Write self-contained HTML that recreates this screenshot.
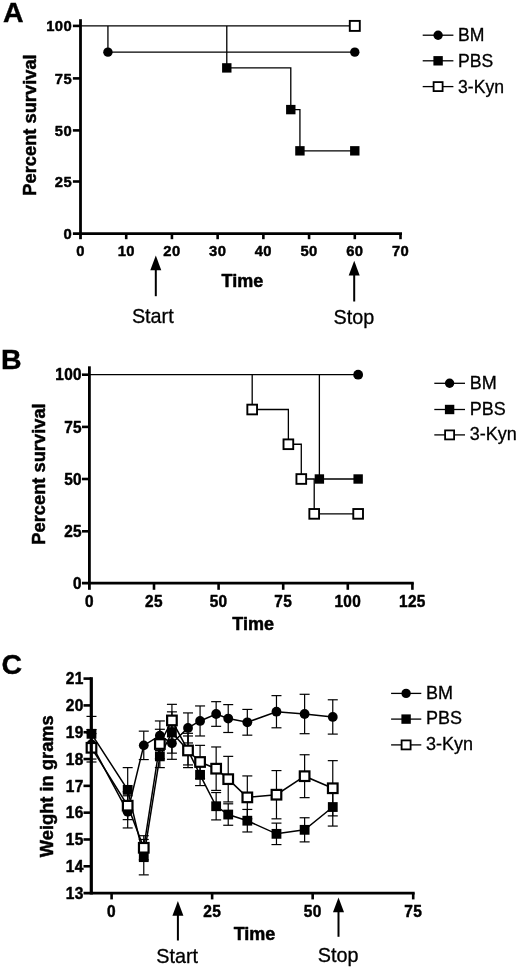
<!DOCTYPE html>
<html><head><meta charset="utf-8"><title>Figure</title>
<style>
html,body{margin:0;padding:0;background:#fff;}
body{width:520px;height:968px;overflow:hidden;}
svg{display:block;filter:grayscale(1);font-family:"Liberation Sans", sans-serif;fill:#000;}
</style></head><body>
<svg width="520" height="968" viewBox="0 0 520 968">
<rect x="0" y="0" width="520" height="968" fill="#fff"/>
<text x="3.00" y="22.00" font-size="28.5" font-weight="bold" text-anchor="start" stroke="#000" stroke-width="0.4">A</text>
<line x1="80.50" y1="19.20" x2="80.50" y2="239.20" stroke="#000" stroke-width="2.8" />
<line x1="72.90" y1="233.60" x2="402.00" y2="233.60" stroke="#000" stroke-width="2.8" />
<line x1="72.90" y1="181.50" x2="80.50" y2="181.50" stroke="#000" stroke-width="2.6" />
<line x1="72.90" y1="130.40" x2="80.50" y2="130.40" stroke="#000" stroke-width="2.6" />
<line x1="72.90" y1="78.40" x2="80.50" y2="78.40" stroke="#000" stroke-width="2.6" />
<line x1="72.90" y1="25.90" x2="80.50" y2="25.90" stroke="#000" stroke-width="2.6" />
<text transform="translate(72.00,239.00) scale(1.0,1.01)" font-size="14.8" font-weight="bold" text-anchor="end" stroke="#000" stroke-width="0.45" stroke-linejoin="round" letter-spacing="0.35">0</text>
<text transform="translate(72.00,186.90) scale(1.0,1.01)" font-size="14.8" font-weight="bold" text-anchor="end" stroke="#000" stroke-width="0.45" stroke-linejoin="round" letter-spacing="0.35">25</text>
<text transform="translate(72.00,135.80) scale(1.0,1.01)" font-size="14.8" font-weight="bold" text-anchor="end" stroke="#000" stroke-width="0.45" stroke-linejoin="round" letter-spacing="0.35">50</text>
<text transform="translate(72.00,83.80) scale(1.0,1.01)" font-size="14.8" font-weight="bold" text-anchor="end" stroke="#000" stroke-width="0.45" stroke-linejoin="round" letter-spacing="0.35">75</text>
<text transform="translate(72.00,31.30) scale(1.0,1.01)" font-size="14.8" font-weight="bold" text-anchor="end" stroke="#000" stroke-width="0.45" stroke-linejoin="round" letter-spacing="0.35">100</text>
<line x1="126.21" y1="233.60" x2="126.21" y2="239.20" stroke="#000" stroke-width="2.6" />
<line x1="171.93" y1="233.60" x2="171.93" y2="239.20" stroke="#000" stroke-width="2.6" />
<line x1="217.64" y1="233.60" x2="217.64" y2="239.20" stroke="#000" stroke-width="2.6" />
<line x1="263.36" y1="233.60" x2="263.36" y2="239.20" stroke="#000" stroke-width="2.6" />
<line x1="309.07" y1="233.60" x2="309.07" y2="239.20" stroke="#000" stroke-width="2.6" />
<line x1="354.79" y1="233.60" x2="354.79" y2="239.20" stroke="#000" stroke-width="2.6" />
<line x1="400.50" y1="233.60" x2="400.50" y2="239.20" stroke="#000" stroke-width="2.6" />
<text transform="translate(80.50,256.00) scale(1.0,1.01)" font-size="14.8" font-weight="bold" text-anchor="middle" stroke="#000" stroke-width="0.45" stroke-linejoin="round" letter-spacing="0.35">0</text>
<text transform="translate(126.21,256.00) scale(1.0,1.01)" font-size="14.8" font-weight="bold" text-anchor="middle" stroke="#000" stroke-width="0.45" stroke-linejoin="round" letter-spacing="0.35">10</text>
<text transform="translate(171.93,256.00) scale(1.0,1.01)" font-size="14.8" font-weight="bold" text-anchor="middle" stroke="#000" stroke-width="0.45" stroke-linejoin="round" letter-spacing="0.35">20</text>
<text transform="translate(217.64,256.00) scale(1.0,1.01)" font-size="14.8" font-weight="bold" text-anchor="middle" stroke="#000" stroke-width="0.45" stroke-linejoin="round" letter-spacing="0.35">30</text>
<text transform="translate(263.36,256.00) scale(1.0,1.01)" font-size="14.8" font-weight="bold" text-anchor="middle" stroke="#000" stroke-width="0.45" stroke-linejoin="round" letter-spacing="0.35">40</text>
<text transform="translate(309.07,256.00) scale(1.0,1.01)" font-size="14.8" font-weight="bold" text-anchor="middle" stroke="#000" stroke-width="0.45" stroke-linejoin="round" letter-spacing="0.35">50</text>
<text transform="translate(354.79,256.00) scale(1.0,1.01)" font-size="14.8" font-weight="bold" text-anchor="middle" stroke="#000" stroke-width="0.45" stroke-linejoin="round" letter-spacing="0.35">60</text>
<text transform="translate(400.50,256.00) scale(1.0,1.01)" font-size="14.8" font-weight="bold" text-anchor="middle" stroke="#000" stroke-width="0.45" stroke-linejoin="round" letter-spacing="0.35">70</text>
<text x="242.40" y="286.90" font-size="18.0" font-weight="bold" text-anchor="middle" stroke="#000" stroke-width="0.5" stroke-linejoin="round">Time</text>
<text transform="translate(36.2,125) rotate(-90)" font-size="18.3" font-weight="bold" text-anchor="middle" stroke="#000" stroke-width="0.5" stroke-linejoin="round">Percent survival</text>
<line x1="80.50" y1="25.90" x2="354.79" y2="25.90" stroke="#000" stroke-width="1.3" />
<line x1="107.93" y1="25.90" x2="107.93" y2="52.15" stroke="#000" stroke-width="1.3" />
<line x1="107.93" y1="52.15" x2="354.79" y2="52.15" stroke="#000" stroke-width="1.3" />
<polyline fill="none" stroke="#000" stroke-width="1.3" points="226.79,25.90 226.79,67.90 290.79,67.90 290.79,109.60 299.93,109.60 299.93,150.84 354.79,150.84"/>
<circle cx="107.93" cy="52.15" r="4.7" fill="#000"/>
<circle cx="354.79" cy="52.15" r="4.7" fill="#000"/>
<rect x="222.09" y="63.20" width="9.4" height="9.4" fill="#000"/>
<rect x="286.09" y="104.90" width="9.4" height="9.4" fill="#000"/>
<rect x="295.23" y="146.14" width="9.4" height="9.4" fill="#000"/>
<rect x="350.09" y="146.14" width="9.4" height="9.4" fill="#000"/>
<rect x="349.79" y="20.90" width="10.0" height="10.0" fill="#fff" stroke="#000" stroke-width="1.9"/>
<polygon points="155.80,255.50 150.30,270.30 161.30,270.30" fill="#000"/>
<line x1="155.80" y1="269.30" x2="155.80" y2="296.20" stroke="#000" stroke-width="2.0" />
<polygon points="354.20,260.70 348.70,275.50 359.70,275.50" fill="#000"/>
<line x1="354.20" y1="274.50" x2="354.20" y2="301.50" stroke="#000" stroke-width="2.0" />
<text x="152.80" y="322.70" font-size="19.8" text-anchor="middle" stroke="#000" stroke-width="0.3">Start</text>
<text x="353.80" y="324.00" font-size="19.8" text-anchor="middle" stroke="#000" stroke-width="0.3">Stop</text>
<line x1="422.70" y1="35.20" x2="453.40" y2="35.20" stroke="#000" stroke-width="1.3" />
<circle cx="438.10" cy="35.20" r="4.7" fill="#000"/>
<text x="458.00" y="41.30" font-size="17.6" text-anchor="start" stroke="#000" stroke-width="0.3">BM</text>
<line x1="422.70" y1="60.80" x2="453.40" y2="60.80" stroke="#000" stroke-width="1.3" />
<rect x="433.40" y="56.10" width="9.4" height="9.4" fill="#000"/>
<text x="458.00" y="66.90" font-size="17.6" text-anchor="start" stroke="#000" stroke-width="0.3">PBS</text>
<line x1="422.70" y1="86.60" x2="453.40" y2="86.60" stroke="#000" stroke-width="1.3" />
<rect x="433.60" y="82.10" width="9.0" height="9.0" fill="#fff" stroke="#000" stroke-width="1.8"/>
<text x="458.00" y="92.70" font-size="17.6" text-anchor="start" stroke="#000" stroke-width="0.3">3-Kyn</text>
<text x="1.00" y="368.80" font-size="28.5" font-weight="bold" text-anchor="start" stroke="#000" stroke-width="0.4">B</text>
<line x1="89.40" y1="366.30" x2="89.40" y2="589.80" stroke="#000" stroke-width="2.8" />
<line x1="82.00" y1="583.10" x2="413.80" y2="583.10" stroke="#000" stroke-width="2.8" />
<line x1="82.00" y1="531.30" x2="89.40" y2="531.30" stroke="#000" stroke-width="2.6" />
<line x1="82.00" y1="479.00" x2="89.40" y2="479.00" stroke="#000" stroke-width="2.6" />
<line x1="82.00" y1="426.90" x2="89.40" y2="426.90" stroke="#000" stroke-width="2.6" />
<line x1="82.00" y1="374.70" x2="89.40" y2="374.70" stroke="#000" stroke-width="2.6" />
<text transform="translate(82.00,589.00) scale(1.0,1.06)" font-size="15.4" font-weight="bold" text-anchor="end" stroke="#000" stroke-width="0.45" stroke-linejoin="round" letter-spacing="0.35">0</text>
<text transform="translate(82.00,537.00) scale(1.0,1.06)" font-size="15.4" font-weight="bold" text-anchor="end" stroke="#000" stroke-width="0.45" stroke-linejoin="round" letter-spacing="0.35">25</text>
<text transform="translate(82.00,484.70) scale(1.0,1.06)" font-size="15.4" font-weight="bold" text-anchor="end" stroke="#000" stroke-width="0.45" stroke-linejoin="round" letter-spacing="0.35">50</text>
<text transform="translate(82.00,432.60) scale(1.0,1.06)" font-size="15.4" font-weight="bold" text-anchor="end" stroke="#000" stroke-width="0.45" stroke-linejoin="round" letter-spacing="0.35">75</text>
<text transform="translate(82.00,380.40) scale(1.0,1.06)" font-size="15.4" font-weight="bold" text-anchor="end" stroke="#000" stroke-width="0.45" stroke-linejoin="round" letter-spacing="0.35">100</text>
<line x1="154.00" y1="583.10" x2="154.00" y2="589.80" stroke="#000" stroke-width="2.6" />
<line x1="218.60" y1="583.10" x2="218.60" y2="589.80" stroke="#000" stroke-width="2.6" />
<line x1="283.20" y1="583.10" x2="283.20" y2="589.80" stroke="#000" stroke-width="2.6" />
<line x1="347.80" y1="583.10" x2="347.80" y2="589.80" stroke="#000" stroke-width="2.6" />
<line x1="412.40" y1="583.10" x2="412.40" y2="589.80" stroke="#000" stroke-width="2.6" />
<text transform="translate(89.40,606.80) scale(1.0,1.06)" font-size="15.4" font-weight="bold" text-anchor="middle" stroke="#000" stroke-width="0.45" stroke-linejoin="round" letter-spacing="0.35">0</text>
<text transform="translate(154.00,606.80) scale(1.0,1.06)" font-size="15.4" font-weight="bold" text-anchor="middle" stroke="#000" stroke-width="0.45" stroke-linejoin="round" letter-spacing="0.35">25</text>
<text transform="translate(218.60,606.80) scale(1.0,1.06)" font-size="15.4" font-weight="bold" text-anchor="middle" stroke="#000" stroke-width="0.45" stroke-linejoin="round" letter-spacing="0.35">50</text>
<text transform="translate(283.20,606.80) scale(1.0,1.06)" font-size="15.4" font-weight="bold" text-anchor="middle" stroke="#000" stroke-width="0.45" stroke-linejoin="round" letter-spacing="0.35">75</text>
<text transform="translate(347.80,606.80) scale(1.0,1.06)" font-size="15.4" font-weight="bold" text-anchor="middle" stroke="#000" stroke-width="0.45" stroke-linejoin="round" letter-spacing="0.35">100</text>
<text transform="translate(412.40,606.80) scale(1.0,1.06)" font-size="15.4" font-weight="bold" text-anchor="middle" stroke="#000" stroke-width="0.45" stroke-linejoin="round" letter-spacing="0.35">125</text>
<text x="253.10" y="630.20" font-size="18.0" font-weight="bold" text-anchor="middle" stroke="#000" stroke-width="0.5" stroke-linejoin="round">Time</text>
<text transform="translate(44.5,474) rotate(-90)" font-size="18.3" font-weight="bold" text-anchor="middle" stroke="#000" stroke-width="0.5" stroke-linejoin="round">Percent survival</text>
<line x1="89.40" y1="374.70" x2="358.14" y2="374.70" stroke="#000" stroke-width="1.3" />
<polyline fill="none" stroke="#000" stroke-width="1.3" points="319.38,374.70 319.38,479.00 358.14,479.00"/>
<polyline fill="none" stroke="#000" stroke-width="1.3" points="252.19,374.70 252.19,409.51 288.37,409.51 288.37,444.26 301.29,444.26 301.29,479.00 314.21,479.00 314.21,513.87 358.14,513.87"/>
<circle cx="358.14" cy="374.70" r="4.9" fill="#000"/>
<rect x="314.68" y="474.30" width="9.4" height="9.4" fill="#000"/>
<rect x="353.44" y="474.30" width="9.4" height="9.4" fill="#000"/>
<rect x="247.34" y="404.66" width="9.7" height="9.7" fill="#fff" stroke="#000" stroke-width="1.9"/>
<rect x="283.52" y="439.41" width="9.7" height="9.7" fill="#fff" stroke="#000" stroke-width="1.9"/>
<rect x="296.44" y="474.15" width="9.7" height="9.7" fill="#fff" stroke="#000" stroke-width="1.9"/>
<rect x="309.36" y="509.02" width="9.7" height="9.7" fill="#fff" stroke="#000" stroke-width="1.9"/>
<rect x="353.29" y="509.02" width="9.7" height="9.7" fill="#fff" stroke="#000" stroke-width="1.9"/>
<line x1="434.30" y1="383.30" x2="465.00" y2="383.30" stroke="#000" stroke-width="1.3" />
<circle cx="449.60" cy="383.30" r="4.7" fill="#000"/>
<text x="469.80" y="388.80" font-size="18.0" text-anchor="start" stroke="#000" stroke-width="0.3">BM</text>
<line x1="434.30" y1="409.50" x2="465.00" y2="409.50" stroke="#000" stroke-width="1.3" />
<rect x="444.90" y="404.80" width="9.4" height="9.4" fill="#000"/>
<text x="469.80" y="415.00" font-size="18.0" text-anchor="start" stroke="#000" stroke-width="0.3">PBS</text>
<line x1="434.30" y1="434.90" x2="465.00" y2="434.90" stroke="#000" stroke-width="1.3" />
<rect x="445.10" y="430.40" width="9.0" height="9.0" fill="#fff" stroke="#000" stroke-width="1.8"/>
<text x="469.80" y="440.40" font-size="18.0" text-anchor="start" stroke="#000" stroke-width="0.3">3-Kyn</text>
<text x="1.50" y="673.90" font-size="28.5" font-weight="bold" text-anchor="start" stroke="#000" stroke-width="0.4">C</text>
<text transform="translate(83.80,898.80) scale(1.0,1.06)" font-size="15.5" font-weight="bold" text-anchor="end" stroke="#000" stroke-width="0.45" stroke-linejoin="round" letter-spacing="0.35">13</text>
<text transform="translate(83.80,871.99) scale(1.0,1.06)" font-size="15.5" font-weight="bold" text-anchor="end" stroke="#000" stroke-width="0.45" stroke-linejoin="round" letter-spacing="0.35">14</text>
<text transform="translate(83.80,845.18) scale(1.0,1.06)" font-size="15.5" font-weight="bold" text-anchor="end" stroke="#000" stroke-width="0.45" stroke-linejoin="round" letter-spacing="0.35">15</text>
<text transform="translate(83.80,818.36) scale(1.0,1.06)" font-size="15.5" font-weight="bold" text-anchor="end" stroke="#000" stroke-width="0.45" stroke-linejoin="round" letter-spacing="0.35">16</text>
<text transform="translate(83.80,791.55) scale(1.0,1.06)" font-size="15.5" font-weight="bold" text-anchor="end" stroke="#000" stroke-width="0.45" stroke-linejoin="round" letter-spacing="0.35">17</text>
<text transform="translate(83.80,764.74) scale(1.0,1.06)" font-size="15.5" font-weight="bold" text-anchor="end" stroke="#000" stroke-width="0.45" stroke-linejoin="round" letter-spacing="0.35">18</text>
<text transform="translate(83.80,737.93) scale(1.0,1.06)" font-size="15.5" font-weight="bold" text-anchor="end" stroke="#000" stroke-width="0.45" stroke-linejoin="round" letter-spacing="0.35">19</text>
<text transform="translate(83.80,711.11) scale(1.0,1.06)" font-size="15.5" font-weight="bold" text-anchor="end" stroke="#000" stroke-width="0.45" stroke-linejoin="round" letter-spacing="0.35">20</text>
<text transform="translate(83.80,684.30) scale(1.0,1.06)" font-size="15.5" font-weight="bold" text-anchor="end" stroke="#000" stroke-width="0.45" stroke-linejoin="round" letter-spacing="0.35">21</text>
<line x1="111.60" y1="893.10" x2="111.60" y2="899.40" stroke="#000" stroke-width="2.6" />
<text transform="translate(111.60,916.70) scale(1.0,1.06)" font-size="15.5" font-weight="bold" text-anchor="middle" stroke="#000" stroke-width="0.45" stroke-linejoin="round" letter-spacing="0.35">0</text>
<line x1="212.13" y1="893.10" x2="212.13" y2="899.40" stroke="#000" stroke-width="2.6" />
<text transform="translate(212.13,916.70) scale(1.0,1.06)" font-size="15.5" font-weight="bold" text-anchor="middle" stroke="#000" stroke-width="0.45" stroke-linejoin="round" letter-spacing="0.35">25</text>
<line x1="312.67" y1="893.10" x2="312.67" y2="899.40" stroke="#000" stroke-width="2.6" />
<text transform="translate(312.67,916.70) scale(1.0,1.06)" font-size="15.5" font-weight="bold" text-anchor="middle" stroke="#000" stroke-width="0.45" stroke-linejoin="round" letter-spacing="0.35">50</text>
<line x1="413.20" y1="893.10" x2="413.20" y2="899.40" stroke="#000" stroke-width="2.6" />
<text transform="translate(413.20,916.70) scale(1.0,1.06)" font-size="15.5" font-weight="bold" text-anchor="middle" stroke="#000" stroke-width="0.45" stroke-linejoin="round" letter-spacing="0.35">75</text>
<text x="254.50" y="939.50" font-size="18.0" font-weight="bold" text-anchor="middle" stroke="#000" stroke-width="0.5" stroke-linejoin="round">Time</text>
<text transform="translate(53.3,786.2) rotate(-90)" font-size="18.3" font-weight="bold" text-anchor="middle" stroke="#000" stroke-width="0.5" stroke-linejoin="round">Weight in grams</text>
<line x1="91.49" y1="729.54" x2="91.49" y2="759.04" stroke="#000" stroke-width="1.2" />
<line x1="86.49" y1="729.54" x2="96.49" y2="729.54" stroke="#000" stroke-width="1.2" />
<line x1="86.49" y1="759.04" x2="96.49" y2="759.04" stroke="#000" stroke-width="1.2" />
<line x1="127.69" y1="795.77" x2="127.69" y2="827.95" stroke="#000" stroke-width="1.2" />
<line x1="122.69" y1="795.77" x2="132.69" y2="795.77" stroke="#000" stroke-width="1.2" />
<line x1="122.69" y1="827.95" x2="132.69" y2="827.95" stroke="#000" stroke-width="1.2" />
<line x1="143.77" y1="731.15" x2="143.77" y2="759.57" stroke="#000" stroke-width="1.2" />
<line x1="138.77" y1="731.15" x2="148.77" y2="731.15" stroke="#000" stroke-width="1.2" />
<line x1="138.77" y1="759.57" x2="148.77" y2="759.57" stroke="#000" stroke-width="1.2" />
<line x1="159.86" y1="720.96" x2="159.86" y2="750.46" stroke="#000" stroke-width="1.2" />
<line x1="154.86" y1="720.96" x2="164.86" y2="720.96" stroke="#000" stroke-width="1.2" />
<line x1="154.86" y1="750.46" x2="164.86" y2="750.46" stroke="#000" stroke-width="1.2" />
<line x1="171.92" y1="727.13" x2="171.92" y2="759.31" stroke="#000" stroke-width="1.2" />
<line x1="166.92" y1="727.13" x2="176.92" y2="727.13" stroke="#000" stroke-width="1.2" />
<line x1="166.92" y1="759.31" x2="176.92" y2="759.31" stroke="#000" stroke-width="1.2" />
<line x1="188.01" y1="712.92" x2="188.01" y2="742.95" stroke="#000" stroke-width="1.2" />
<line x1="183.01" y1="712.92" x2="193.01" y2="712.92" stroke="#000" stroke-width="1.2" />
<line x1="183.01" y1="742.95" x2="193.01" y2="742.95" stroke="#000" stroke-width="1.2" />
<line x1="200.07" y1="705.95" x2="200.07" y2="735.98" stroke="#000" stroke-width="1.2" />
<line x1="195.07" y1="705.95" x2="205.07" y2="705.95" stroke="#000" stroke-width="1.2" />
<line x1="195.07" y1="735.98" x2="205.07" y2="735.98" stroke="#000" stroke-width="1.2" />
<line x1="216.15" y1="701.66" x2="216.15" y2="726.33" stroke="#000" stroke-width="1.2" />
<line x1="211.15" y1="701.66" x2="221.15" y2="701.66" stroke="#000" stroke-width="1.2" />
<line x1="211.15" y1="726.33" x2="221.15" y2="726.33" stroke="#000" stroke-width="1.2" />
<line x1="228.22" y1="704.61" x2="228.22" y2="732.49" stroke="#000" stroke-width="1.2" />
<line x1="223.22" y1="704.61" x2="233.22" y2="704.61" stroke="#000" stroke-width="1.2" />
<line x1="223.22" y1="732.49" x2="233.22" y2="732.49" stroke="#000" stroke-width="1.2" />
<line x1="247.32" y1="709.43" x2="247.32" y2="735.17" stroke="#000" stroke-width="1.2" />
<line x1="242.32" y1="709.43" x2="252.32" y2="709.43" stroke="#000" stroke-width="1.2" />
<line x1="242.32" y1="735.17" x2="252.32" y2="735.17" stroke="#000" stroke-width="1.2" />
<line x1="276.47" y1="695.63" x2="276.47" y2="727.80" stroke="#000" stroke-width="1.2" />
<line x1="271.47" y1="695.63" x2="281.47" y2="695.63" stroke="#000" stroke-width="1.2" />
<line x1="271.47" y1="727.80" x2="281.47" y2="727.80" stroke="#000" stroke-width="1.2" />
<line x1="304.62" y1="694.29" x2="304.62" y2="733.70" stroke="#000" stroke-width="1.2" />
<line x1="299.62" y1="694.29" x2="309.62" y2="694.29" stroke="#000" stroke-width="1.2" />
<line x1="299.62" y1="733.70" x2="309.62" y2="733.70" stroke="#000" stroke-width="1.2" />
<line x1="332.77" y1="699.78" x2="332.77" y2="734.10" stroke="#000" stroke-width="1.2" />
<line x1="327.77" y1="699.78" x2="337.77" y2="699.78" stroke="#000" stroke-width="1.2" />
<line x1="327.77" y1="734.10" x2="337.77" y2="734.10" stroke="#000" stroke-width="1.2" />
<polyline fill="none" stroke="#000" stroke-width="1.5" points="91.49,744.29 127.69,811.86 143.77,745.36 159.86,735.71 171.92,743.22 188.01,727.94 200.07,720.96 216.15,713.99 228.22,718.55 247.32,722.30 276.47,711.71 304.62,713.99 332.77,716.94"/>
<circle cx="91.49" cy="744.29" r="4.9" fill="#000"/>
<circle cx="127.69" cy="811.86" r="4.9" fill="#000"/>
<circle cx="143.77" cy="745.36" r="4.9" fill="#000"/>
<circle cx="159.86" cy="735.71" r="4.9" fill="#000"/>
<circle cx="171.92" cy="743.22" r="4.9" fill="#000"/>
<circle cx="188.01" cy="727.94" r="4.9" fill="#000"/>
<circle cx="200.07" cy="720.96" r="4.9" fill="#000"/>
<circle cx="216.15" cy="713.99" r="4.9" fill="#000"/>
<circle cx="228.22" cy="718.55" r="4.9" fill="#000"/>
<circle cx="247.32" cy="722.30" r="4.9" fill="#000"/>
<circle cx="276.47" cy="711.71" r="4.9" fill="#000"/>
<circle cx="304.62" cy="713.99" r="4.9" fill="#000"/>
<circle cx="332.77" cy="716.94" r="4.9" fill="#000"/>
<line x1="91.49" y1="716.41" x2="91.49" y2="751.26" stroke="#000" stroke-width="1.2" />
<line x1="86.49" y1="716.41" x2="96.49" y2="716.41" stroke="#000" stroke-width="1.2" />
<line x1="86.49" y1="751.26" x2="96.49" y2="751.26" stroke="#000" stroke-width="1.2" />
<line x1="127.69" y1="767.62" x2="127.69" y2="812.13" stroke="#000" stroke-width="1.2" />
<line x1="122.69" y1="767.62" x2="132.69" y2="767.62" stroke="#000" stroke-width="1.2" />
<line x1="122.69" y1="812.13" x2="132.69" y2="812.13" stroke="#000" stroke-width="1.2" />
<line x1="143.77" y1="839.48" x2="143.77" y2="874.87" stroke="#000" stroke-width="1.2" />
<line x1="138.77" y1="839.48" x2="148.77" y2="839.48" stroke="#000" stroke-width="1.2" />
<line x1="138.77" y1="874.87" x2="148.77" y2="874.87" stroke="#000" stroke-width="1.2" />
<line x1="159.86" y1="745.09" x2="159.86" y2="767.62" stroke="#000" stroke-width="1.2" />
<line x1="154.86" y1="745.09" x2="164.86" y2="745.09" stroke="#000" stroke-width="1.2" />
<line x1="154.86" y1="767.62" x2="164.86" y2="767.62" stroke="#000" stroke-width="1.2" />
<line x1="171.92" y1="711.85" x2="171.92" y2="753.14" stroke="#000" stroke-width="1.2" />
<line x1="166.92" y1="711.85" x2="176.92" y2="711.85" stroke="#000" stroke-width="1.2" />
<line x1="166.92" y1="753.14" x2="176.92" y2="753.14" stroke="#000" stroke-width="1.2" />
<line x1="188.01" y1="735.98" x2="188.01" y2="764.94" stroke="#000" stroke-width="1.2" />
<line x1="183.01" y1="735.98" x2="193.01" y2="735.98" stroke="#000" stroke-width="1.2" />
<line x1="183.01" y1="764.94" x2="193.01" y2="764.94" stroke="#000" stroke-width="1.2" />
<line x1="200.07" y1="764.13" x2="200.07" y2="785.58" stroke="#000" stroke-width="1.2" />
<line x1="195.07" y1="764.13" x2="205.07" y2="764.13" stroke="#000" stroke-width="1.2" />
<line x1="195.07" y1="785.58" x2="205.07" y2="785.58" stroke="#000" stroke-width="1.2" />
<line x1="216.15" y1="792.55" x2="216.15" y2="819.90" stroke="#000" stroke-width="1.2" />
<line x1="211.15" y1="792.55" x2="221.15" y2="792.55" stroke="#000" stroke-width="1.2" />
<line x1="211.15" y1="819.90" x2="221.15" y2="819.90" stroke="#000" stroke-width="1.2" />
<line x1="228.22" y1="803.81" x2="228.22" y2="825.26" stroke="#000" stroke-width="1.2" />
<line x1="223.22" y1="803.81" x2="233.22" y2="803.81" stroke="#000" stroke-width="1.2" />
<line x1="223.22" y1="825.26" x2="233.22" y2="825.26" stroke="#000" stroke-width="1.2" />
<line x1="247.32" y1="809.44" x2="247.32" y2="831.97" stroke="#000" stroke-width="1.2" />
<line x1="242.32" y1="809.44" x2="252.32" y2="809.44" stroke="#000" stroke-width="1.2" />
<line x1="242.32" y1="831.97" x2="252.32" y2="831.97" stroke="#000" stroke-width="1.2" />
<line x1="276.47" y1="823.12" x2="276.47" y2="844.57" stroke="#000" stroke-width="1.2" />
<line x1="271.47" y1="823.12" x2="281.47" y2="823.12" stroke="#000" stroke-width="1.2" />
<line x1="271.47" y1="844.57" x2="281.47" y2="844.57" stroke="#000" stroke-width="1.2" />
<line x1="304.62" y1="817.76" x2="304.62" y2="841.89" stroke="#000" stroke-width="1.2" />
<line x1="299.62" y1="817.76" x2="309.62" y2="817.76" stroke="#000" stroke-width="1.2" />
<line x1="299.62" y1="841.89" x2="309.62" y2="841.89" stroke="#000" stroke-width="1.2" />
<line x1="332.77" y1="788.00" x2="332.77" y2="826.07" stroke="#000" stroke-width="1.2" />
<line x1="327.77" y1="788.00" x2="337.77" y2="788.00" stroke="#000" stroke-width="1.2" />
<line x1="327.77" y1="826.07" x2="337.77" y2="826.07" stroke="#000" stroke-width="1.2" />
<polyline fill="none" stroke="#000" stroke-width="1.5" points="91.49,733.83 127.69,789.87 143.77,857.17 159.86,756.36 171.92,732.49 188.01,750.46 200.07,774.86 216.15,806.23 228.22,814.54 247.32,820.71 276.47,833.84 304.62,829.82 332.77,807.03"/>
<rect x="86.59" y="728.93" width="9.8" height="9.8" fill="#000"/>
<rect x="122.79" y="784.97" width="9.8" height="9.8" fill="#000"/>
<rect x="138.87" y="852.27" width="9.8" height="9.8" fill="#000"/>
<rect x="154.96" y="751.46" width="9.8" height="9.8" fill="#000"/>
<rect x="167.02" y="727.59" width="9.8" height="9.8" fill="#000"/>
<rect x="183.11" y="745.56" width="9.8" height="9.8" fill="#000"/>
<rect x="195.17" y="769.96" width="9.8" height="9.8" fill="#000"/>
<rect x="211.25" y="801.33" width="9.8" height="9.8" fill="#000"/>
<rect x="223.32" y="809.64" width="9.8" height="9.8" fill="#000"/>
<rect x="242.42" y="815.81" width="9.8" height="9.8" fill="#000"/>
<rect x="271.57" y="828.94" width="9.8" height="9.8" fill="#000"/>
<rect x="299.72" y="824.92" width="9.8" height="9.8" fill="#000"/>
<rect x="327.87" y="802.13" width="9.8" height="9.8" fill="#000"/>
<line x1="91.49" y1="733.57" x2="91.49" y2="761.99" stroke="#000" stroke-width="1.2" />
<line x1="86.49" y1="733.57" x2="96.49" y2="733.57" stroke="#000" stroke-width="1.2" />
<line x1="86.49" y1="761.99" x2="96.49" y2="761.99" stroke="#000" stroke-width="1.2" />
<line x1="127.69" y1="791.75" x2="127.69" y2="819.63" stroke="#000" stroke-width="1.2" />
<line x1="122.69" y1="791.75" x2="132.69" y2="791.75" stroke="#000" stroke-width="1.2" />
<line x1="122.69" y1="819.63" x2="132.69" y2="819.63" stroke="#000" stroke-width="1.2" />
<line x1="143.77" y1="835.72" x2="143.77" y2="859.85" stroke="#000" stroke-width="1.2" />
<line x1="138.77" y1="835.72" x2="148.77" y2="835.72" stroke="#000" stroke-width="1.2" />
<line x1="138.77" y1="859.85" x2="148.77" y2="859.85" stroke="#000" stroke-width="1.2" />
<line x1="159.86" y1="729.28" x2="159.86" y2="758.77" stroke="#000" stroke-width="1.2" />
<line x1="154.86" y1="729.28" x2="164.86" y2="729.28" stroke="#000" stroke-width="1.2" />
<line x1="154.86" y1="758.77" x2="164.86" y2="758.77" stroke="#000" stroke-width="1.2" />
<line x1="171.92" y1="704.34" x2="171.92" y2="736.51" stroke="#000" stroke-width="1.2" />
<line x1="166.92" y1="704.34" x2="176.92" y2="704.34" stroke="#000" stroke-width="1.2" />
<line x1="166.92" y1="736.51" x2="176.92" y2="736.51" stroke="#000" stroke-width="1.2" />
<line x1="188.01" y1="733.30" x2="188.01" y2="767.62" stroke="#000" stroke-width="1.2" />
<line x1="183.01" y1="733.30" x2="193.01" y2="733.30" stroke="#000" stroke-width="1.2" />
<line x1="183.01" y1="767.62" x2="193.01" y2="767.62" stroke="#000" stroke-width="1.2" />
<line x1="200.07" y1="745.36" x2="200.07" y2="778.61" stroke="#000" stroke-width="1.2" />
<line x1="195.07" y1="745.36" x2="205.07" y2="745.36" stroke="#000" stroke-width="1.2" />
<line x1="195.07" y1="778.61" x2="205.07" y2="778.61" stroke="#000" stroke-width="1.2" />
<line x1="216.15" y1="746.97" x2="216.15" y2="790.41" stroke="#000" stroke-width="1.2" />
<line x1="211.15" y1="746.97" x2="221.15" y2="746.97" stroke="#000" stroke-width="1.2" />
<line x1="211.15" y1="790.41" x2="221.15" y2="790.41" stroke="#000" stroke-width="1.2" />
<line x1="228.22" y1="756.36" x2="228.22" y2="801.94" stroke="#000" stroke-width="1.2" />
<line x1="223.22" y1="756.36" x2="233.22" y2="756.36" stroke="#000" stroke-width="1.2" />
<line x1="223.22" y1="801.94" x2="233.22" y2="801.94" stroke="#000" stroke-width="1.2" />
<line x1="247.32" y1="775.93" x2="247.32" y2="818.83" stroke="#000" stroke-width="1.2" />
<line x1="242.32" y1="775.93" x2="252.32" y2="775.93" stroke="#000" stroke-width="1.2" />
<line x1="242.32" y1="818.83" x2="252.32" y2="818.83" stroke="#000" stroke-width="1.2" />
<line x1="276.47" y1="770.57" x2="276.47" y2="818.83" stroke="#000" stroke-width="1.2" />
<line x1="271.47" y1="770.57" x2="281.47" y2="770.57" stroke="#000" stroke-width="1.2" />
<line x1="271.47" y1="818.83" x2="281.47" y2="818.83" stroke="#000" stroke-width="1.2" />
<line x1="304.62" y1="754.75" x2="304.62" y2="797.65" stroke="#000" stroke-width="1.2" />
<line x1="299.62" y1="754.75" x2="309.62" y2="754.75" stroke="#000" stroke-width="1.2" />
<line x1="299.62" y1="797.65" x2="309.62" y2="797.65" stroke="#000" stroke-width="1.2" />
<line x1="332.77" y1="760.65" x2="332.77" y2="815.88" stroke="#000" stroke-width="1.2" />
<line x1="327.77" y1="760.65" x2="337.77" y2="760.65" stroke="#000" stroke-width="1.2" />
<line x1="327.77" y1="815.88" x2="337.77" y2="815.88" stroke="#000" stroke-width="1.2" />
<polyline fill="none" stroke="#000" stroke-width="1.5" points="91.49,747.78 127.69,805.69 143.77,847.79 159.86,744.02 171.92,720.43 188.01,750.46 200.07,761.99 216.15,768.69 228.22,779.15 247.32,797.38 276.47,794.70 304.62,776.20 332.77,788.26"/>
<rect x="86.69" y="742.98" width="9.6" height="9.6" fill="#fff" stroke="#000" stroke-width="2.2"/>
<rect x="122.89" y="800.89" width="9.6" height="9.6" fill="#fff" stroke="#000" stroke-width="2.2"/>
<rect x="138.97" y="842.99" width="9.6" height="9.6" fill="#fff" stroke="#000" stroke-width="2.2"/>
<rect x="155.06" y="739.22" width="9.6" height="9.6" fill="#fff" stroke="#000" stroke-width="2.2"/>
<rect x="167.12" y="715.63" width="9.6" height="9.6" fill="#fff" stroke="#000" stroke-width="2.2"/>
<rect x="183.21" y="745.66" width="9.6" height="9.6" fill="#fff" stroke="#000" stroke-width="2.2"/>
<rect x="195.27" y="757.19" width="9.6" height="9.6" fill="#fff" stroke="#000" stroke-width="2.2"/>
<rect x="211.35" y="763.89" width="9.6" height="9.6" fill="#fff" stroke="#000" stroke-width="2.2"/>
<rect x="223.42" y="774.35" width="9.6" height="9.6" fill="#fff" stroke="#000" stroke-width="2.2"/>
<rect x="242.52" y="792.58" width="9.6" height="9.6" fill="#fff" stroke="#000" stroke-width="2.2"/>
<rect x="271.67" y="789.90" width="9.6" height="9.6" fill="#fff" stroke="#000" stroke-width="2.2"/>
<rect x="299.82" y="771.40" width="9.6" height="9.6" fill="#fff" stroke="#000" stroke-width="2.2"/>
<rect x="327.97" y="783.46" width="9.6" height="9.6" fill="#fff" stroke="#000" stroke-width="2.2"/>
<line x1="91.30" y1="677.20" x2="91.30" y2="894.50" stroke="#000" stroke-width="3.2" />
<line x1="83.50" y1="893.10" x2="414.70" y2="893.10" stroke="#000" stroke-width="2.8" />
<line x1="83.50" y1="866.29" x2="91.30" y2="866.29" stroke="#000" stroke-width="2.6" />
<line x1="83.50" y1="839.48" x2="91.30" y2="839.48" stroke="#000" stroke-width="2.6" />
<line x1="83.50" y1="812.66" x2="91.30" y2="812.66" stroke="#000" stroke-width="2.6" />
<line x1="83.50" y1="785.85" x2="91.30" y2="785.85" stroke="#000" stroke-width="2.6" />
<line x1="83.50" y1="759.04" x2="91.30" y2="759.04" stroke="#000" stroke-width="2.6" />
<line x1="83.50" y1="732.23" x2="91.30" y2="732.23" stroke="#000" stroke-width="2.6" />
<line x1="83.50" y1="705.41" x2="91.30" y2="705.41" stroke="#000" stroke-width="2.6" />
<line x1="83.50" y1="678.60" x2="91.30" y2="678.60" stroke="#000" stroke-width="2.6" />
<polygon points="177.90,901.00 172.40,915.80 183.40,915.80" fill="#000"/>
<line x1="177.90" y1="914.80" x2="177.90" y2="940.50" stroke="#000" stroke-width="2.0" />
<polygon points="338.50,897.50 333.00,912.30 344.00,912.30" fill="#000"/>
<line x1="338.50" y1="911.30" x2="338.50" y2="936.80" stroke="#000" stroke-width="2.0" />
<text x="177.20" y="962.90" font-size="19.8" text-anchor="middle" stroke="#000" stroke-width="0.3">Start</text>
<text x="338.20" y="961.50" font-size="19.8" text-anchor="middle" stroke="#000" stroke-width="0.3">Stop</text>
<line x1="391.10" y1="693.40" x2="421.30" y2="693.40" stroke="#000" stroke-width="1.3" />
<circle cx="406.10" cy="693.40" r="4.7" fill="#000"/>
<text x="426.00" y="698.70" font-size="18.0" text-anchor="start" stroke="#000" stroke-width="0.3">BM</text>
<line x1="391.10" y1="719.10" x2="421.30" y2="719.10" stroke="#000" stroke-width="1.3" />
<rect x="401.40" y="714.40" width="9.4" height="9.4" fill="#000"/>
<text x="426.00" y="724.40" font-size="18.0" text-anchor="start" stroke="#000" stroke-width="0.3">PBS</text>
<line x1="391.10" y1="744.90" x2="421.30" y2="744.90" stroke="#000" stroke-width="1.3" />
<rect x="401.60" y="740.40" width="9.0" height="9.0" fill="#fff" stroke="#000" stroke-width="1.8"/>
<text x="426.00" y="750.20" font-size="18.0" text-anchor="start" stroke="#000" stroke-width="0.3">3-Kyn</text>
</svg>
</body></html>
